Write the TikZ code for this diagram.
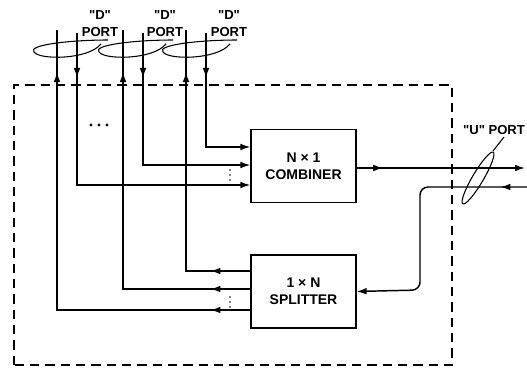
\documentclass[tikz,border=0pt]{standalone}
\usepackage{fontspec}
\setsansfont{Liberation Sans}[Ligatures=TeXOff]
\usetikzlibrary{arrows.meta,positioning,decorations.markings}
\tikzset{
  block/.style={
    draw, line width=1.1pt, minimum width=78.5pt, minimum height=55pt,
    inner sep=0pt, align=center,
    font=\sffamily\bfseries\fontsize{10.5}{12.75}\selectfont
  },
  portlabel/.style={
    inner sep=0pt, align=center,
    font=\sffamily\bfseries\fontsize{9.8}{12.75}\selectfont
  },
  wire/.style={line width=1.1pt},
  arrow/.style={wire, -{Latex[length=7.5pt,width=5pt]}},
  lasso/.style={line width=0.8pt},
  midtip/.style={postaction={decorate}, decoration={markings,
      mark=at position #1 with {\arrow{Latex[length=7.5pt,width=5pt]}}}},
  midtips/.style 2 args={postaction={decorate}, decoration={markings,
      mark=at position #1 with {\arrow{Latex[length=7.5pt,width=5pt]}},
      mark=at position #2 with {\arrow{Latex[length=7.5pt,width=5pt]}}}},
  frame/.style={line width=0.9pt, dash pattern=on 7pt off 4.5pt}
}
\begin{document}
\begin{tikzpicture}[x=0.75pt,y=0.75pt]
  \useasboundingbox (0,0) rectangle (527,372);
  % dashed outline
  \draw[frame] (14,7) rectangle (452,287);
  % blocks
  \node[block] (combiner) at (303.5,206) {N × 1\\COMBINER};
  \node[block, below=38pt of combiner] (splitter) {1 × N\\SPLITTER};
  % line ends and bends of the D ports
  \foreach \i/\xu/\xd/\yc/\yb in {1/57/77/62/187, 2/123/143/83/207, 3/186/206/101/225} {
    \coordinate (u\i) at (\xu,342);
    \coordinate (d\i) at (\xd,339);
    \coordinate (c\i) at (\xu,\yc);
    \coordinate (b\i) at (\xd,\yb);
  }
  \foreach \i in {1,2,3} {
    \draw[arrow, midtip=33.75pt] (d\i) -- (b\i) -- (b\i -| combiner.west);
    \draw[wire, midtips={30pt}{-31.5pt}] (c\i -| splitter.west) -- (c\i) -- (u\i);
  }
  % U port
  \coordinate (o1) at (525,204);
  \coordinate (i1) at (527,185);
  \coordinate (k) at (420,82);
  \draw[arrow, midtip=20pt] (o1 -| combiner.east) -- (o1);
  \draw[arrow, midtip=20pt, rounded corners=6pt] (i1) -| (k) -- (splitter.east);
  % dots
  \foreach \y in {192,197,202} \fill (230,\y) circle (0.7pt);
  \foreach \y in {65,70,75} \fill (230,\y) circle (0.7pt);
  \foreach \x in {91,99,107} \fill (\x,247) circle (1.2pt);
  % port labels
  \foreach \i/\dx in {1/0,2/65,3/129} {
    \node[portlabel] (dport\i) at (100+\dx,348) {"D"\\PORT};
    \draw[lasso] (108+\dx,332) .. controls (70+\dx,332) and (27+\dx,327) .. (34+\dx,320)
      .. controls (39+\dx,312) and (88+\dx,312) .. (101+\dx,328);
  }
  \node[portlabel] (uport) at (494,242) {"U" PORT};
  \draw[lasso, rotate around={59.5:(478,194)}] (478,194) ellipse [x radius=30, y radius=5.5];
  \coordinate (utail) at (493,221);
  \coordinate (ulead) at (504,235);
  \draw[lasso] (utail) -- (ulead);
\end{tikzpicture}
\end{document}
